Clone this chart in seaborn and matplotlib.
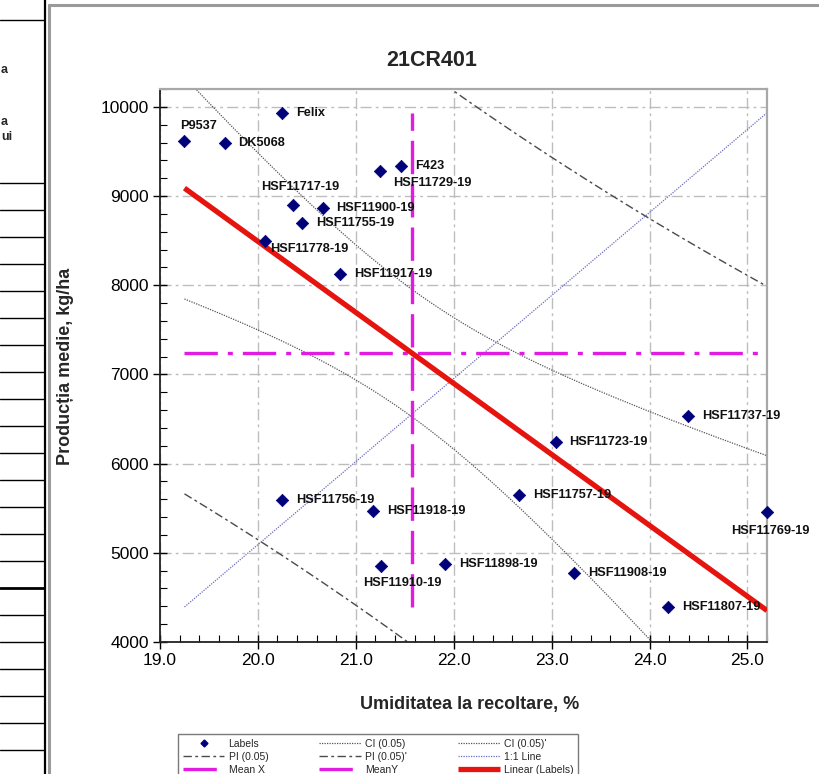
import numpy as np
import pandas as pd
import matplotlib
matplotlib.use("Agg")
import matplotlib.pyplot as plt
import seaborn as sns
from matplotlib.lines import Line2D
from matplotlib.ticker import MultipleLocator, FormatStrFormatter

# ---- data: hybrids, harvest moisture (%) and mean yield (kg/ha) ----
hybrids = ["P9537", "DK5068", "Felix", "HSF11729-19", "F423",
           "HSF11717-19", "HSF11900-19", "HSF11755-19", "HSF11778-19",
           "HSF11917-19", "HSF11737-19", "HSF11723-19", "HSF11757-19",
           "HSF11769-19", "HSF11918-19", "HSF11898-19", "HSF11910-19",
           "HSF11908-19", "HSF11807-19", "HSF11756-19"]
moisture = [19.25, 19.66, 20.25, 21.25, 21.46,
            20.36, 20.66, 20.45, 20.07,
            20.84, 24.39, 23.04, 22.67,
            25.20, 21.18, 21.91, 21.26,
            23.23, 24.19, 20.25]
yield_kg = [9619, 9596, 9933, 9282, 9338,
            8901, 8867, 8699, 8497,
            8127, 6535, 6243, 5649,
            5458, 5469, 4875, 4852,
            4774, 4393, 5593]

title = "21CR401"
x_label = "Umiditatea la recoltare, %"
y_label = "Producția medie, kg/ha"
x_ticks = [19.0, 20.0, 21.0, 22.0, 23.0, 24.0, 25.0]
y_ticks = [4000, 5000, 6000, 7000, 8000, 9000, 10000]

# label placement around each marker: (dx px, dy px, horizontal alignment)
label_pos = {
    "P9537": (-4, 15, "left"), "HSF11729-19": (13, -12, "left"),
    "HSF11717-19": (7, 18, "center"), "HSF11778-19": (5, -8, "left"),
    "HSF11769-19": (3, -19, "center"), "HSF11910-19": (21, -17, "center"),
}

W, H = 819, 774
sns.set_theme(style="white")
plt.rcParams["font.family"] = ["Liberation Sans", "DejaVu Sans"]
fig = plt.figure(figsize=(W / 100, H / 100), dpi=100)
fig.patch.set_facecolor("white")


def fx(px):
    return px / W


def fy(py):
    return 1 - py / H


# ---- surrounding page: table edge on the left, panel border ----
for py in [20] + [183 + 27 * i for i in range(22)]:
    fig.add_artist(Line2D([0, fx(44)], [fy(py), fy(py)], color="black",
                          lw=2.0 if py == 588 else 1.0, transform=fig.transFigure))
fig.add_artist(Line2D([fx(44.5), fx(44.5)], [0, 1], color="black", lw=1.6,
                      transform=fig.transFigure))
fig.add_artist(Line2D([fx(49), fx(49)], [0, fy(5)], color="#9a9a9a", lw=2.2,
                      transform=fig.transFigure))
fig.add_artist(Line2D([fx(49), 1], [fy(5), fy(5)], color="#9a9a9a", lw=2.2,
                      transform=fig.transFigure))
for txt, py in [("a", 70), ("a", 122), ("ui", 137)]:
    fig.text(fx(1), fy(py), txt, fontsize=9, fontweight="bold", va="center", ha="left")

# ---- plot area ----
ax = fig.add_axes([fx(160), fy(642), fx(767) - fx(160), (642 - 89) / H])
ax.set_facecolor("white")
ax.set_xlim(19.0, 25.2)
ax.set_ylim(4000, 10200)

df = pd.DataFrame({"hybrid": hybrids, "moisture": moisture, "yield": yield_kg})
x = df["moisture"].to_numpy(float)
y = df["yield"].to_numpy(float)
n = len(x)

# ordinary least squares fit with 95% confidence / prediction limits
slope, intercept = np.polyfit(x, y, 1)
resid = y - (intercept + slope * x)
s = np.sqrt(np.sum(resid ** 2) / (n - 2))
t_crit = 2.1009  # Student t, 0.975 quantile, n - 2 = 18 df
xbar, ybar = x.mean(), y.mean()
sxx = np.sum((x - xbar) ** 2)
xs = np.linspace(x.min(), x.max(), 300)
fit = intercept + slope * xs
ci = t_crit * s * np.sqrt(1 / n + (xs - xbar) ** 2 / sxx)
pi = t_crit * s * np.sqrt(1 + 1 / n + (xs - xbar) ** 2 / sxx)

grid_kw = dict(color="#bdbdbd", lw=1.0, dashes=(8, 3, 2, 3))
ax.grid(False)
for gx in x_ticks:
    ax.axvline(gx, zorder=0, **grid_kw)
for gy in y_ticks:
    ax.axhline(gy, zorder=0, **grid_kw)

ci_kw = dict(color="#555555", lw=0.9, ls=(0, (1, 1)))
pi_kw = dict(color="#4a4a4a", lw=1.0, ls=(0, (6, 2.5, 2, 2.5)))
ax.plot(xs, fit + ci, zorder=2, **ci_kw)
ax.plot(xs, fit - ci, zorder=2, **ci_kw)
ax.plot(xs, fit + pi, zorder=2, **pi_kw)
ax.plot(xs, fit - pi, zorder=2, **pi_kw)

one_kw = dict(color="#6b6bc0", lw=0.9, ls=(0, (1, 1)))
ax.plot([x.min(), x.max()], [y.min(), y.max()], zorder=2, **one_kw)

mag = "#e21be2"
meanx_kw = dict(color=mag, lw=2.4, ls=(0, (10, 3)))
meany_kw = dict(color=mag, lw=2.4, ls=(0, (10, 3, 1.5, 3)))
ax.plot([xbar, xbar], [y.min(), y.max()], zorder=3, **meanx_kw)
ax.plot([x.min(), x.max()], [ybar, ybar], zorder=3, **meany_kw)

lin_kw = dict(color="#e5140f", lw=3.8, solid_capstyle="butt")
ax.plot([x.min(), x.max()], [intercept + slope * x.min(), intercept + slope * x.max()],
        zorder=4, **lin_kw)

sns.scatterplot(data=df, x="moisture", y="yield", marker="D", color="#00007a",
                edgecolor="#00007a", s=40, zorder=6, clip_on=False, ax=ax, legend=False)

for name, xv, yv in zip(hybrids, x, y):
    dx, dy, ha = label_pos.get(name, (14, 0, "left"))
    ax.annotate(name, (xv, yv), xytext=(dx, dy), textcoords="offset pixels",
                ha=ha, va="center", fontsize=9.2, fontweight="bold", color="#111111",
                zorder=7, annotation_clip=False)

# ---- axes styling ----
ax.set_xticks(x_ticks)
ax.set_yticks(y_ticks)
ax.xaxis.set_major_formatter(FormatStrFormatter("%.1f"))
ax.yaxis.set_major_formatter(FormatStrFormatter("%d"))
ax.xaxis.set_minor_locator(MultipleLocator(0.2))
ax.yaxis.set_minor_locator(MultipleLocator(200))
ax.tick_params(which="major", direction="inout", length=10, width=1.0,
               labelsize=12.5, pad=3, colors="black", bottom=True, left=True)
ax.tick_params(which="minor", direction="in", length=5, width=0.8,
               bottom=True, left=True, colors="black")
ax.set_xlabel("")
ax.set_ylabel("")
for side in ["left", "bottom"]:
    ax.spines[side].set_color("#222222")
    ax.spines[side].set_linewidth(1.3)
for side in ["top", "right"]:
    ax.spines[side].set_color("#a8a8a8")
    ax.spines[side].set_linewidth(1.6)

fig.text(fx(432), fy(60), title, ha="center", va="center", fontsize=15.5, fontweight="bold")
fig.text(fx(470), fy(705), x_label, ha="center", va="center", fontsize=13, fontweight="bold")
fig.text(fx(65), fy(366), y_label, ha="center", va="center", rotation=90,
         fontsize=13, fontweight="bold")

# ---- legend (column-major order fills the three rows) ----
h_labels = Line2D([], [], marker="D", color="#00007a", ls="none", markersize=3.5)
h_ci = Line2D([], [], **ci_kw)
h_pi = Line2D([], [], **pi_kw)
h_one = Line2D([], [], **one_kw)
h_mx = Line2D([], [], **meanx_kw)
h_my = Line2D([], [], **meany_kw)
h_lin = Line2D([], [], **lin_kw)
handles = [h_labels, h_pi, h_mx, h_ci, h_pi, h_my, h_ci, h_one, h_lin]
labels = ["Labels", "PI (0.05)", "Mean X", "CI (0.05)", "PI (0.05)'", "MeanY",
          "CI (0.05)'", "1:1 Line", "Linear (Labels)"]
leg = fig.legend(handles, labels, loc="upper left", bbox_to_anchor=(fx(178), fy(734)),
                 ncol=3, fontsize=7.5, frameon=True, fancybox=False, framealpha=1,
                 edgecolor="#7a7a7a", borderaxespad=0, borderpad=0.45, labelspacing=0.3,
                 handlelength=4.0, handletextpad=0.4, columnspacing=4.9)
leg.get_frame().set_linewidth(1.0)

fig.savefig("out.png", dpi=100, facecolor="white")
